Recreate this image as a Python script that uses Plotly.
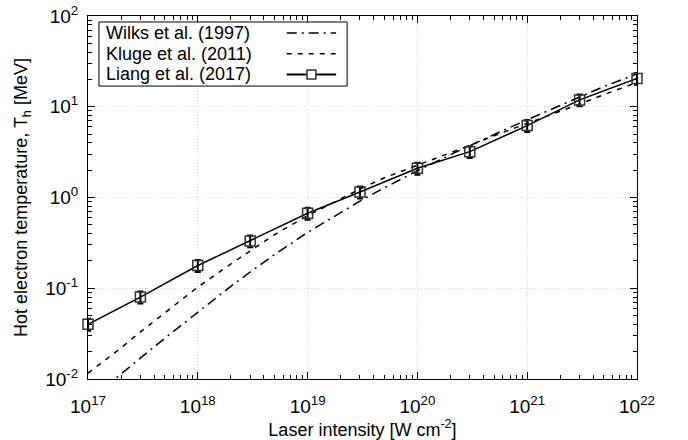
import plotly.graph_objects as go

# laser intensity [W cm^-2] for the model curves
I_model = [1e17, 1.5e17, 2e17, 3e17, 5e17, 1e18, 2e18, 3e18, 5e18, 1e19, 2e19, 3e19,
           5e19, 1e20, 2e20, 3e20, 5e20, 1e21, 2e21, 3e21, 5e21, 1e22]
T_wilks = [0.0057, 0.0086, 0.0114, 0.0170, 0.0281, 0.0548, 0.105, 0.151, 0.235, 0.412,
           0.69, 0.914, 1.28, 1.97, 2.96, 3.73, 4.95, 7.19, 10.4, 12.8, 16.7, 23.0]
T_kluge = [0.0116, 0.0168, 0.022, 0.033, 0.053, 0.103, 0.185, 0.26, 0.39, 0.63,
           0.97, 1.24, 1.65, 2.25, 3.1, 3.75, 4.8, 6.5, 8.9, 10.7, 13.6, 18.5]

# Liang et al. (2017) points
I_liang = [1e17, 3e17, 1e18, 3e18, 1e19, 3e19, 1e20, 3e20, 1e21, 3e21, 1e22]
T_liang = [0.040, 0.080, 0.178, 0.332, 0.67, 1.15, 2.10, 3.2, 6.2, 11.9, 20.5]
err_pct = 15

xticks = [1e17, 1e18, 1e19, 1e20, 1e21, 1e22]
xticktext = ["10<sup>17</sup>", "10<sup>18</sup>", "10<sup>19</sup>", "10<sup>20</sup>",
             "10<sup>21</sup>", "10<sup>22</sup>"]
yticks = [1e-2, 1e-1, 1e0, 1e1, 1e2]
yticktext = ["10<sup>-2</sup>", "10<sup>-1</sup>", "10<sup>0</sup>", "10<sup>1</sup>", "10<sup>2</sup>"]

# minor ticks at 2..9 of every decade
xminor = [m * d for d in xticks[:-1] for m in range(2, 10)]
yminor = [m * d for d in yticks[:-1] for m in range(2, 10)]

labels = ["Wilks et al. (1997)", "Kluge et al. (2011)", "Liang et al. (2017)"]
dashes = ["10px,5px,2px,5px", "5px,6px", "solid"]

fig = go.Figure()
fig.add_trace(go.Scatter(x=I_model, y=T_wilks, mode="lines", name=labels[0],
                         line=dict(color="black", width=1.5, dash=dashes[0])))
fig.add_trace(go.Scatter(x=I_model, y=T_kluge, mode="lines", name=labels[1],
                         line=dict(color="black", width=1.5, dash=dashes[1])))
fig.add_trace(go.Scatter(x=I_liang, y=T_liang, mode="lines+markers", name=labels[2],
                         line=dict(color="black", width=1.5),
                         marker=dict(symbol="square-open", size=10, color="#333333",
                                     line=dict(width=1.5)),
                         error_y=dict(type="percent", value=err_pct, color="black",
                                      thickness=2, width=3),
                         cliponaxis=False))

# legend drawn inside the plot, text left and line sample right
shapes = [dict(type="rect", xref="paper", yref="paper", x0=0.020, x1=0.472,
               y0=0.807, y1=0.9835, line=dict(color="black", width=1),
               fillcolor="white", layer="above")]
annotations = []
rows = [0.953, 0.896, 0.839]
for lab, d, yy in zip(labels, dashes, rows):
    annotations.append(dict(x=0.029, y=yy, xref="paper", yref="paper", text=lab,
                            showarrow=False, xanchor="left", yanchor="middle",
                            font=dict(size=18, color="black")))
    shapes.append(dict(type="line", xref="paper", yref="paper", x0=0.362, x1=0.452,
                       y0=yy, y1=yy, layer="above",
                       line=dict(color="black", width=2 if d == "solid" else 1.5, dash=d)))
shapes.append(dict(type="rect", xref="paper", yref="paper", x0=0.399, x1=0.415,
                   y0=rows[2] - 0.0124, y1=rows[2] + 0.0124, layer="above",
                   fillcolor="white", line=dict(color="#333333", width=1.5)))

axis_common = dict(type="log", showline=True, linecolor="black", linewidth=1,
                   mirror="allticks", ticks="inside", ticklen=7, tickcolor="black",
                   showgrid=True, gridcolor="#d4d4d4", griddash="1px,2px", gridwidth=1,
                   zeroline=False, automargin=False,
                   tickfont=dict(size=19, color="black"))

fig.update_xaxes(range=[17, 22], tickvals=xticks, ticktext=xticktext,
                 ticklabelstandoff=10,
                 minor=dict(tickvals=xminor, ticks="inside", ticklen=4,
                            tickcolor="black", showgrid=False),
                 title=dict(text="Laser intensity [W cm<sup>-2</sup>]",
                            font=dict(size=18, color="black"), standoff=8),
                 **axis_common)
fig.update_yaxes(range=[-2, 2], tickvals=yticks, ticktext=yticktext,
                 ticklabelstandoff=5,
                 minor=dict(tickvals=yminor, ticks="inside", ticklen=4,
                            tickcolor="black", showgrid=False),
                 title=dict(text="Hot electron temperature, T<sub>h</sub> [MeV]",
                            font=dict(size=18, color="black"), standoff=12),
                 **axis_common)

fig.update_layout(width=688, height=440, showlegend=False,
                  margin=dict(l=88, r=51, t=16, b=61),
                  paper_bgcolor="white", plot_bgcolor="white",
                  font=dict(family="Liberation Sans, Arial, sans-serif", color="black"),
                  shapes=shapes, annotations=annotations)

# drop the default 8px page margin so the figure sits at the window corner
fig.write_html("out.html", config={"displayModeBar": False},
               post_script="document.body.style.margin='0';")
